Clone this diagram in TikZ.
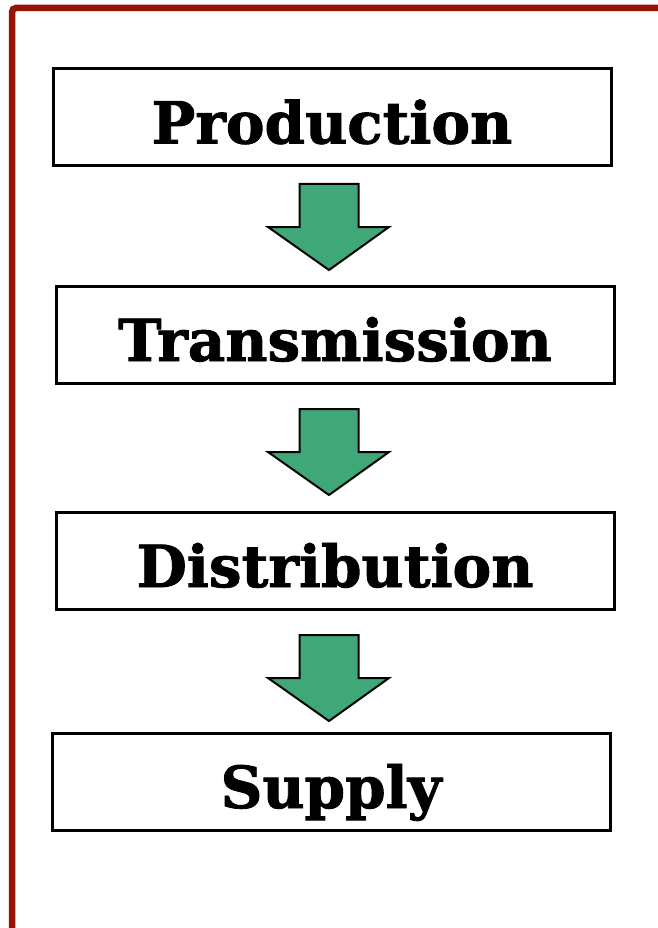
\documentclass[tikz,border=0pt]{standalone}
\usepackage{fontspec}
\setmainfont{DejaVu Serif}
\newfontfamily\heavy{DejaVu Serif Bold}[FakeBold=1.5]
\definecolor{frame}{RGB}{150,20,4}
\definecolor{flow}{RGB}{64,168,120}
\tikzset{
  stage/.style={draw=black, line width=3pt, minimum width=558pt, minimum height=97pt,
    inner sep=0pt, font=\fontsize{58}{62}\selectfont\heavy, text height=58pt, text depth=6pt},
  downarrow/.style={fill=flow, draw=black, line width=2pt, line join=miter}
}
\newcommand{\flowarrow}[2]{%
  % block arrow: shaft top at (#1,#2)
  \draw[downarrow] (#1-29.5,#2) -- (#1+29.5,#2) -- (#1+29.5,#2+43) -- (#1+60,#2+43)
     -- (#1,#2+86) -- (#1-61,#2+43) -- (#1-29.5,#2+43) -- cycle;}
\begin{document}
\begin{tikzpicture}[x=1pt,y=-1pt]
  \useasboundingbox (0,0) rectangle (657,928);
  \fill[white] (0,0) rectangle (657,928);
  % outer frame, open at right and bottom
  \draw[frame, line width=6.5pt, rounded corners=4pt] (12,935) -- (12,8) -- (665,8);
  % stages
  \node[stage] (prod) at (332,117.5) {Production};
  \node[stage] (trans) at (335,335) {Transmission};
  \node[stage] (dist) at (335,561) {Distribution};
  \node[stage] (supp) at (331,782) {Supply};
  % arrows between stages
  \flowarrow{329}{184}
  \flowarrow{329}{409}
  \flowarrow{329}{635}
\end{tikzpicture}
\end{document}
